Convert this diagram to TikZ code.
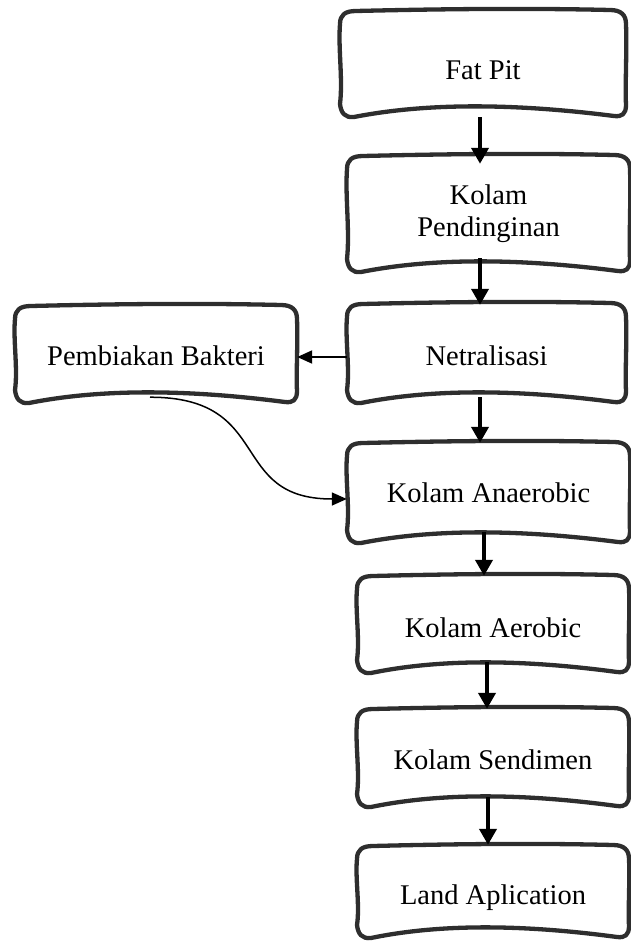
\documentclass[tikz,border=0pt]{standalone}
\usepackage{fontspec}
\setmainfont{Liberation Serif}
\usetikzlibrary{arrows.meta}
\definecolor{boxline}{HTML}{2E2E2E}
\tikzset{
  boxborder/.style={draw=boxline, line width=4.3pt, line join=round},
  boxnode/.style={rectangle, inner sep=0pt, draw=none},
  txt/.style={font=\fontsize{28.5}{32.5}\selectfont, align=center, inner sep=0pt},
  bigarrow/.style={line width=4.5pt, -{Triangle[width=17pt,length=16pt]}},
  midarrow/.style={line width=2pt, -{Triangle[width=13pt,length=15pt]}},
  thinarrow/.style={line width=1.5pt, -{Triangle[width=13pt,length=15pt]}},
}
% #1 name, #2 x0, #3 y0, #4 x1, #5 y1, #6 text yshift, #7 text
\newcommand\wbox[7]{%
  \pgfmathsetmacro\ww{#4-#2}%
  \pgfmathsetmacro\hh{#5-#3}%
  \draw[boxborder] (#2,{#3+14})
    .. controls (#2,{#3+5}) and ({#2+5},{#3+1}) .. ({#2+16},{#3+1})
    .. controls ({#2+0.35*\ww},{#3-1}) and ({#2+0.65*\ww},{#3-2}) .. ({#4-16},{#3})
    .. controls ({#4-5},{#3}) and (#4,{#3+5}) .. (#4,{#3+14})
    .. controls ({#4+1},{#3+0.4*\hh}) and ({#4-1},{#3+0.7*\hh}) .. (#4,{#5-12})
    .. controls (#4,{#5-3}) and ({#4-4},{#5}) .. ({#4-12},{#5-1})
    .. controls ({#2+0.6*\ww},{#5-14}) and ({#2+0.3*\ww},{#5-14}) .. ({#2+14},{#5})
    .. controls ({#2+5},{#5+1}) and ({#2+1},{#5-4}) .. (#2,{#5-13})
    .. controls ({#2+3},{#3+0.65*\hh}) and ({#2-2},{#3+0.35*\hh}) .. cycle;
  \node[boxnode, minimum width={\ww*1pt}, minimum height={\hh*1pt},
        label={[txt, yshift=#6pt]center:{#7}}] (#1) at ({(#2+#4)/2},{(#3+#5)/2}) {};
}
\begin{document}
\begin{tikzpicture}[x=1pt, y=-1pt]
\useasboundingbox (0,0) rectangle (631,942);
\clip (0,0) rectangle (631,942);

\wbox{fat}{340}{10}{626}{117}{-7}{Fat Pit}
\wbox{pend}{347}{155}{630}{272}{0}{Kolam\\Pendinginan}
\wbox{net}{347}{303}{626}{403}{-2.5}{Netralisasi}
\wbox{pemb}{15}{305}{297}{403}{-1.5}{Pembiakan Bakteri}
\wbox{anaer}{347}{442}{630}{543}{0}{Kolam Anaerobic}
\wbox{aer}{357}{575}{629}{673}{-3.5}{Kolam Aerobic}
\wbox{send}{357}{708}{629}{807}{-2}{Kolam Sendimen}
\wbox{land}{357}{845}{629}{938}{-6}{Land Aplication}

\draw[bigarrow] ([xshift=-3pt]fat.south) -- ([xshift=-8.5pt,yshift=-9pt]pend.north);
\draw[bigarrow] ([xshift=-8.5pt,yshift=14pt]pend.south) -- ([xshift=-6.5pt,yshift=-2pt]net.north);
\draw[midarrow] ([yshift=-4pt]net.west) -- ([yshift=-3pt]pemb.east);
\draw[bigarrow] ([xshift=-6.5pt,yshift=6pt]net.south) -- ([xshift=-8.5pt,yshift=-1pt]anaer.north);
\draw[bigarrow] ([xshift=-4.5pt,yshift=11pt]anaer.south) -- ([xshift=-9pt,yshift=-1pt]aer.north);
\draw[bigarrow] ([xshift=-6pt,yshift=11pt]aer.south) -- ([xshift=-6pt,yshift=-1pt]send.north);
\draw[bigarrow] ([xshift=-5pt,yshift=10pt]send.south) -- ([xshift=-5pt]land.north);
\draw[thinarrow] ([xshift=-6pt,yshift=6pt]pemb.south)
  .. controls +(125,0) and +(-120,0) .. ([yshift=-6.5pt]anaer.west);
\end{tikzpicture}
\end{document}
